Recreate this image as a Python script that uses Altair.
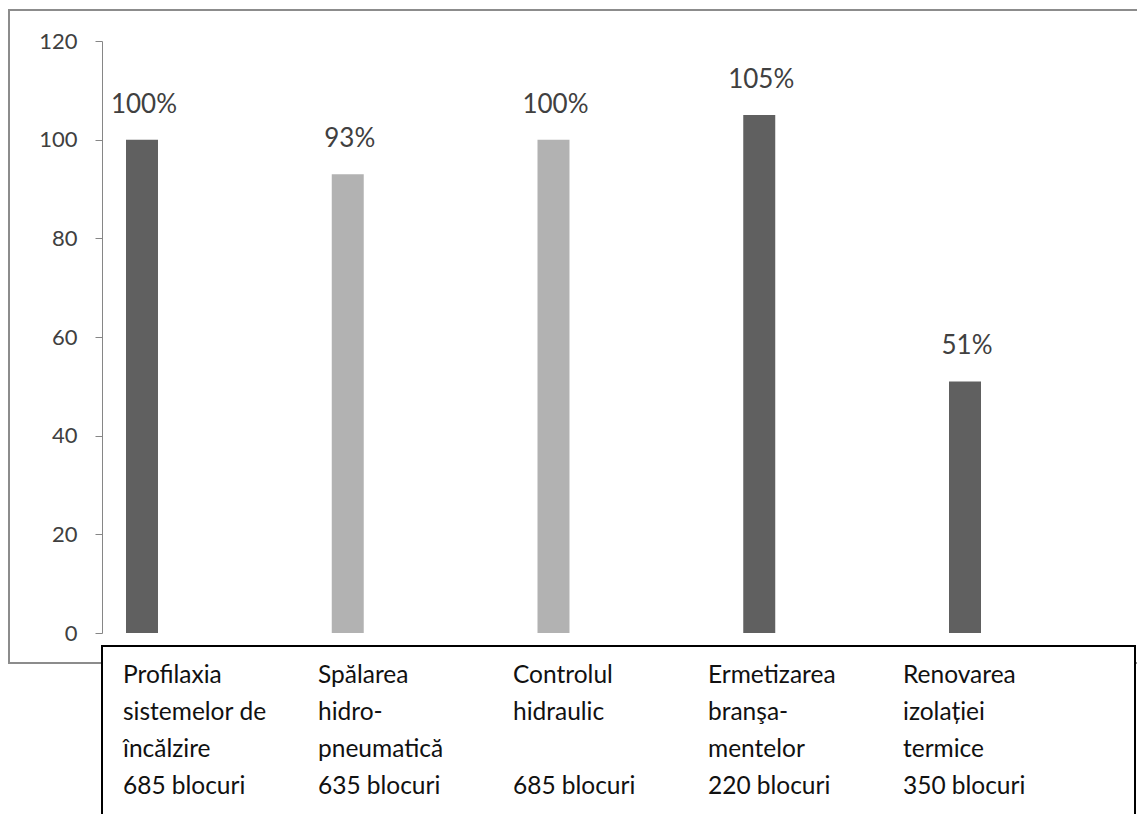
import altair as alt
import pandas as pd

# ---- data ----
categories = ["Profilaxia", "Spălarea", "Controlul", "Ermetizarea", "Renovarea"]
values = [100, 93, 100, 105, 51]
tones = ["dark", "light", "light", "dark", "dark"]
box_lines = [
    ["Profilaxia", "sistemelor de", "încălzire", "685 blocuri"],
    ["Spălarea", " hidro-", "pneumatică", " 635 blocuri"],
    [" Controlul", "  hidraulic", "", "685 blocuri"],
    ["Ermetizarea", " branşa-", " mentelor", " 220 blocuri"],
    ["Renovarea", " izolației", " termice", "  350 blocuri"],
]
y_ticks = [0, 20, 40, 60, 80, 100, 120]

df = pd.DataFrame({"cat": categories, "value": values, "tone": tones})
rows = []
for c, lines in zip(categories, box_lines):
    for i, t in enumerate(lines):
        rows.append({"cat": c, "line": i, "txt": t.replace(" ", "\u2009\u2009")})
df_box = pd.DataFrame(rows)

W, H = 1035, 592
FONT = "Lato"

def xband():
    return alt.X("cat:N", sort=categories, axis=None,
                 scale=alt.Scale(type="band", range=[24, 879], paddingInner=0.8445, paddingOuter=0))

yscale = alt.Scale(domain=[0, 120], nice=False)

bars = alt.Chart(df).mark_bar().encode(
    x=xband(),
    y=alt.Y("value:Q", title=None, scale=yscale,
            axis=alt.Axis(values=y_ticks, grid=False, tickSize=7, tickColor="#868686",
                          domainColor="#868686", domainWidth=1, tickWidth=1,
                          labelFontSize=22, labelFont=FONT, labelColor="#404040",
                          labelPadding=18)),
    color=alt.Color("tone:N", legend=None,
                    scale=alt.Scale(domain=["dark", "light"], range=["#606060", "#b2b2b2"])),
)

pct = alt.Chart(df).mark_text(font=FONT, fontSize=26, color="#404040", baseline="alphabetic",
                              dy=-27, dx=2).encode(
    x=xband(),
    y=alt.Y("value:Q", scale=yscale, axis=None),
    text=alt.Text("pct:N"),
).transform_calculate(pct="datum.value + '%'")

outer = alt.Chart(alt.Data(values=[{}])).mark_rect(filled=False, stroke="#8c8c8c", strokeWidth=2).encode(
    x=alt.value(-93), x2=alt.value(W + 20), y=alt.value(-31), y2=alt.value(622)
)

box = alt.Chart(alt.Data(values=[{}])).mark_rect(fill="white", stroke="black", strokeWidth=2).encode(
    x=alt.value(0), x2=alt.value(W - 2), y=alt.value(605), y2=alt.value(H + 260)
)

box_text = alt.Chart(df_box).mark_text(font=FONT, fontSize=24.5, color="#111111", align="left",
                                       baseline="alphabetic").encode(
    x=alt.X("cat:N", sort=categories, axis=None,
            scale=alt.Scale(type="point", range=[21, 801], padding=0)),
    y=alt.Y("line:Q", axis=None, scale=alt.Scale(domain=[0, 3], range=[642, 753])),
    text="txt:N",
)

chart = alt.layer(outer, bars, pct, box, box_text).resolve_scale(
    x="independent", y="independent"
).properties(
    width=W, height=H,
    padding={"left": 94, "top": 33, "right": 0, "bottom": 181},
    autosize=alt.AutoSizeParams(type="none"),
).configure_view(strokeWidth=0)

chart.save("out.html", embed_options={"renderer": "svg", "actions": False})
